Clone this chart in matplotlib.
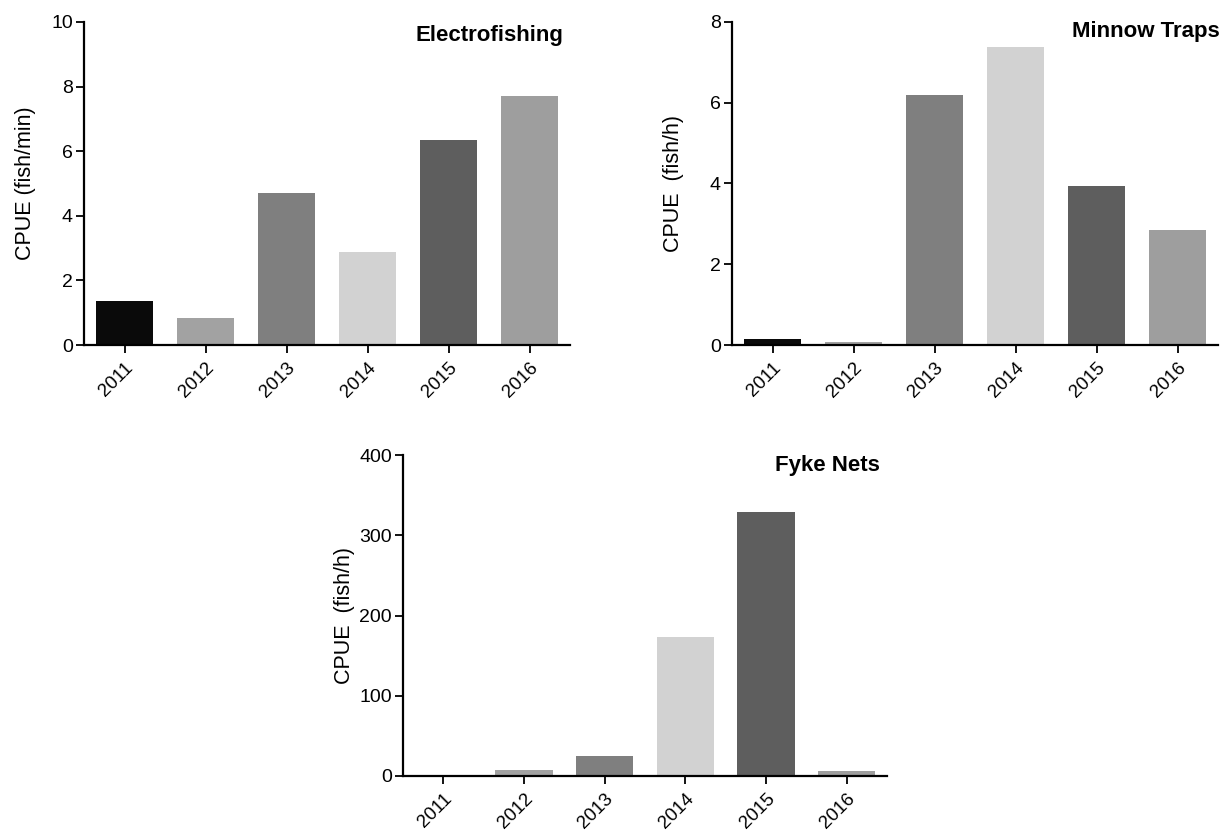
import matplotlib
matplotlib.use("Agg")
import matplotlib.pyplot as plt

plt.rcParams['font.family'] = ['Liberation Sans', 'DejaVu Sans']

years = ["2011", "2012", "2013", "2014", "2015", "2016"]
electro = [1.36, 0.83, 4.72, 2.88, 6.35, 7.72]
minnow = [0.15, 0.08, 6.18, 7.38, 3.95, 2.86]
fyke = [0.0, 8.0, 25.0, 173.0, 329.0, 6.0]

bar_colors = ["#0a0a0a", "#a2a2a2", "#7f7f7f", "#d2d2d2", "#5e5e5e", "#9e9e9e"]

W, H = 1222, 840
fig = plt.figure(figsize=(W / 100, H / 100), dpi=100)

def px_axes(left, right, top, bottom):
    return fig.add_axes([left / W, 1 - bottom / H, (right - left) / W, (bottom - top) / H])

panels = [
    dict(box=(84, 570, 22, 345), vals=electro, ymax=10, step=2, ylabel="CPUE (fish/min)",
         title="Electrofishing", tx=563, ty=35),
    dict(box=(732, 1218, 22, 345), vals=minnow, ymax=8, step=2, ylabel="CPUE  (fish/h)",
         title="Minnow Traps", tx=1220, ty=31),
    dict(box=(403, 887, 455, 776), vals=fyke, ymax=400, step=100, ylabel="CPUE  (fish/h)",
         title="Fyke Nets", tx=880, ty=465),
]

for p in panels:
    l, r, t, b = p["box"]
    ax = px_axes(l, r, t, b)
    x = range(len(years))
    ax.bar(x, p["vals"], width=0.71, color=bar_colors, edgecolor="none", zorder=2)
    ax.set_xlim(-0.5, 5.5)
    ax.set_ylim(0, p["ymax"])
    ax.set_yticks(range(0, p["ymax"] + 1, p["step"]))
    ax.set_xticks(list(x))
    ax.set_xticklabels(years, rotation=45, ha="right", rotation_mode="anchor", fontsize=13.5)
    ax.tick_params(axis="y", labelsize=14, length=6, width=1.3, direction="out", pad=2)
    ax.tick_params(axis="x", length=6, width=1.3, direction="out", pad=4)
    for s in ["top", "right"]:
        ax.spines[s].set_visible(False)
    for s in ["left", "bottom"]:
        ax.spines[s].set_linewidth(1.6)
    ax.set_ylabel(p["ylabel"], fontsize=15.5)
    ax.yaxis.set_label_coords(-48 / (r - l), 0.5)
    fig.text(p["tx"] / W, 1 - p["ty"] / H, p["title"], ha="right", va="center",
             fontsize=16, fontweight="bold")

fig.savefig("out.png", dpi=100, facecolor="white")
